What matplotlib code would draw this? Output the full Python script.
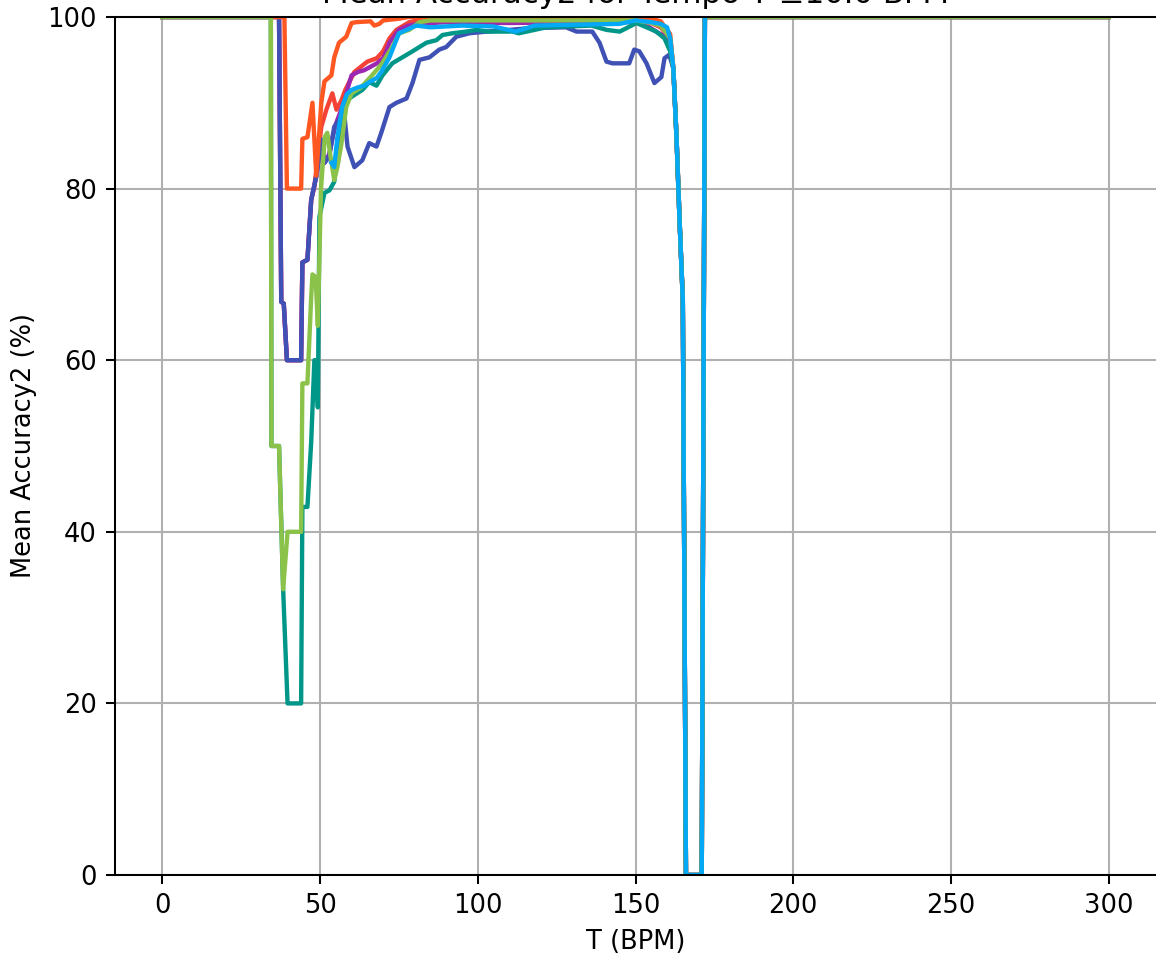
import matplotlib.pyplot as plt

# (BPM, accuracy %) pairs
tail = [(162, 94), (163, 86), (164, 76), (165, 67), (166, 0), (171, 0), (172, 100), (300, 100)]

indigo = [(0, 100), (37, 100), (37.7, 66.8), (38.5, 66.6), (39.5, 60), (44, 60), (44.4, 71.4), (46, 71.7),
          (47.2, 78.7), (48.8, 81.4), (50.4, 85.7), (51.4, 83), (52.9, 83.7), (54.5, 87.2), (56.1, 88),
          (57.7, 88.6), (58.7, 84.9), (60.9, 82.5), (63.4, 83.3), (65.6, 85.3), (67.9, 84.9), (69.4, 86.5),
          (72, 89.5), (74.2, 90), (77.4, 90.5), (79.3, 92.3), (81.5, 95), (84.7, 95.3), (87.8, 96.2),
          (90, 96.5), (93.2, 97.7), (97.3, 98.1), (102.7, 98.3), (110, 98.5), (116.4, 98.7), (128, 98.8),
          (131.3, 98.3), (136.3, 98.3), (138.6, 97), (140.8, 94.8), (142.7, 94.6), (148, 94.6), (149.6, 96.2),
          (151.2, 96), (153.5, 94.6), (156, 92.3), (158.2, 93), (159.2, 95.2), (160.7, 95.6)]

purple = [(0, 100), (37, 100), (37.7, 66.8), (38.5, 66.6), (39.5, 60), (44, 60), (44.4, 71.4), (46, 71.7),
          (47.2, 78.7), (48.8, 81.4), (50.4, 85.7), (51.4, 83), (52.9, 84), (54, 86), (55, 87.5), (56, 88.5),
          (57, 89.5), (58, 90.5), (59, 92), (60, 93.2), (62, 93.6), (64, 93.8), (66, 94.2), (68, 94.6),
          (70, 95.2), (71, 96), (72, 97), (73, 97.5), (75, 98.5), (78, 99), (81, 99.2), (90, 99.4),
          (110, 99.3), (130, 99.4), (150, 99.4), (152, 99.2), (154, 98.9), (157, 98.2), (159, 97.8), (161, 97)]

red = [(0, 100), (37, 100), (37.7, 66.8), (38.5, 66.6), (39.5, 60), (44, 60), (44.4, 71.4), (46, 71.7),
       (47.2, 78.7), (48.2, 80.2), (50.4, 87.2), (52, 89.2), (53.9, 91.1), (55.2, 89.2), (56.8, 90.3),
       (58, 91.5), (60.9, 93.6), (65, 94.8), (68, 95.2), (70, 96), (72, 97.5), (74.2, 98.5), (78.3, 99.4),
       (82, 99.7), (150, 99.7), (155, 99.3), (158, 98.8), (161, 97.5)]

orange = [(0, 100), (38.7, 100), (39.5, 80), (44, 80), (44.4, 85.8), (46, 86), (47.6, 90), (48.8, 81.5),
          (50.4, 90), (51.4, 92.5), (53.6, 93.2), (54.5, 95.3), (56, 97), (58.3, 97.7), (60, 99.3),
          (61.5, 99.4), (66, 99.5), (67.2, 99), (68.8, 99.2), (70, 99.6), (75, 99.8), (78, 100), (150, 100),
          (155, 99.8), (158, 99.5), (161, 98)]

teal = [(0, 100), (34.4, 100), (34.6, 50), (37, 50), (38.3, 33.3), (39.7, 20), (44, 20), (44.4, 42.9),
        (46, 42.9), (47.2, 50.5), (48.2, 60), (48.7, 60), (49.3, 54.5), (49.8, 76.7), (51.4, 79.5),
        (53, 79.8), (54.5, 80.8), (55.5, 84), (56.5, 87), (57.7, 90), (60, 90.7), (63.4, 91.5), (65.6, 92.4),
        (67.9, 92), (69.8, 93.2), (72.9, 94.6), (76.1, 95.3), (79.3, 96), (83.7, 97), (86.9, 97.3),
        (88.8, 97.9), (91.9, 98.1), (96.4, 98.3), (99.6, 98.5), (103, 98.3), (111, 98.3), (113, 98.1),
        (121.7, 98.8), (136, 99), (140.8, 98.5), (145, 98.3), (150.3, 99.3), (153.5, 98.8), (156.6, 98.3),
        (159.2, 97.5), (161, 96)]

green = [(0, 100), (34.4, 100), (34.6, 50), (37, 50), (38.3, 33.3), (39.7, 40), (44, 40), (44.4, 57.3),
         (46, 57.3), (47.2, 67.4), (47.6, 70), (48.6, 69.7), (49.3, 64), (50.3, 80), (51.5, 86), (52.3, 86.5),
         (53.2, 84), (54.5, 81), (55.5, 82.5), (56.8, 85.3), (58.3, 89.5), (60, 91.1), (63, 91.8), (66, 93),
         (69.5, 94.5), (72.9, 96.5), (75.1, 98.1), (78.3, 98.5), (81.5, 99.4), (85, 99.6), (150, 99.6),
         (155, 99.3), (158, 99), (161, 97.5)]

light_blue = [(53.6, 83), (54.5, 82.5), (55.5, 86), (57, 89.5), (58.5, 91), (60, 91.5), (62, 91.8),
              (64, 92), (66, 92.5), (68, 92.9), (69.4, 93.6), (72, 95.3), (75, 98.1), (80.5, 99), (85, 98.8),
              (95, 99), (105, 98.9), (112, 98.3), (118, 99), (145, 99.2), (150, 99.6), (155, 99.4), (158, 99.2),
              (160, 98.8), (161, 97.5)]

# drawing order matters: later ones sit on top
series = [
    (red + tail, '#F44336'),
    (purple + tail, '#9C27B0'),
    (indigo + tail, '#3F51B5'),
    (orange + tail, '#FF5722'),
    (teal + tail, '#009688'),
    (green + tail, '#8BC34A'),
    (light_blue + tail[:-1], '#03A9F4'),
]

fig = plt.figure(figsize=(1156 / 185, 954 / 185), dpi=185)
ax = fig.add_axes([115 / 1156, 79 / 954, 1041 / 1156, 858 / 954])

for pts, color in series:
    xs, ys = zip(*pts)
    ax.plot(xs, ys, color=color, linewidth=1.7)

ax.set_xlim(-15, 315)
ax.set_ylim(0, 100)
ax.set_xlabel('T (BPM)')
ax.set_ylabel('Mean Accuracy2 (%)')
ax.set_title('Mean Accuracy2 for Tempo T ±10.0 BPM', pad=5.5)
ax.spines['right'].set_visible(False)
ax.grid(True)

fig.savefig('out.png', dpi=185)
